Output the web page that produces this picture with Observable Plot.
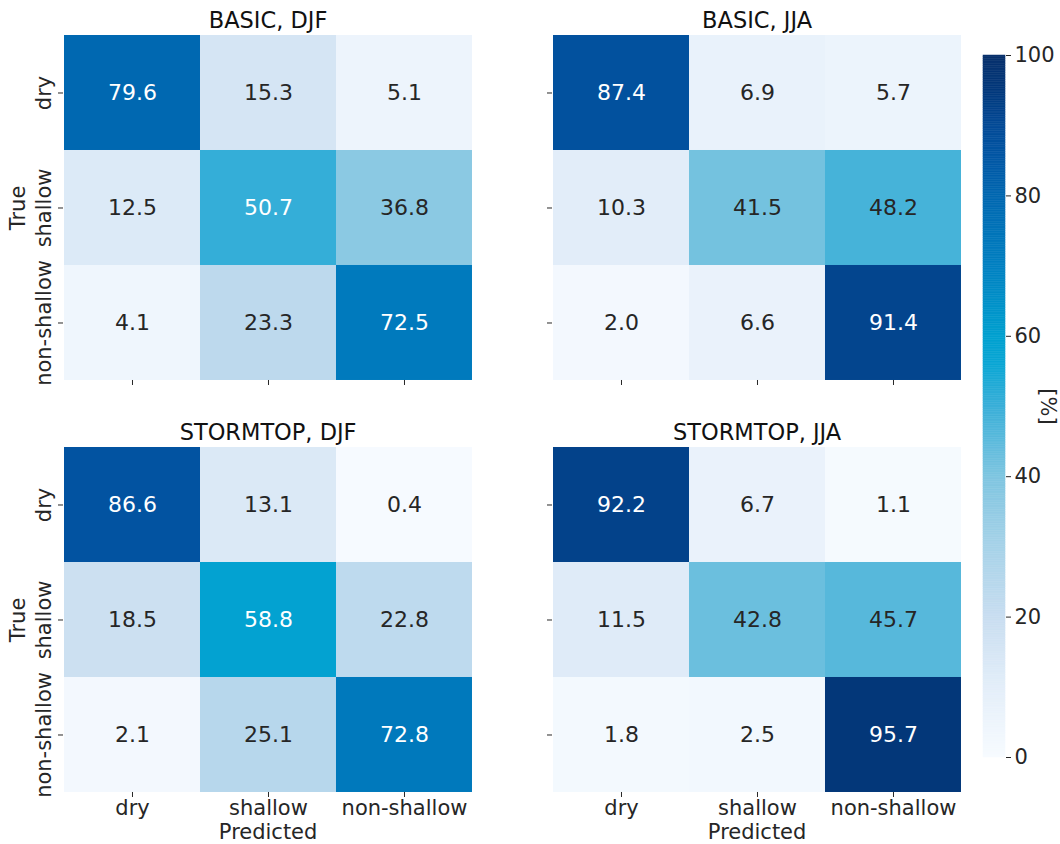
<!DOCTYPE html>
<html>
<head>
<meta charset="utf-8">
<script src="https://cdn.jsdelivr.net/npm/d3@7"></script>
<script src="https://cdn.jsdelivr.net/npm/@observablehq/plot@0.6"></script>
<style>
  html, body { margin: 0; padding: 0; background: #fff; }
  #chart { position: relative; width: 1060px; height: 844px; overflow: hidden; font-family: "DejaVu Sans", sans-serif; }
  #chart svg { position: absolute; overflow: visible; }
</style>
</head>
<body>
<div id="chart"></div>
<script>
// ---- data ----
const classes = ["dry", "shallow", "non-shallow"];
const titles = ["BASIC, DJF", "BASIC, JJA", "STORMTOP, DJF", "STORMTOP, JJA"];
const basicDJF = [[79.6, 15.3, 5.1], [12.5, 50.7, 36.8], [4.1, 23.3, 72.5]];
const basicJJA = [[87.4, 6.9, 5.7], [10.3, 41.5, 48.2], [2.0, 6.6, 91.4]];
const stormDJF = [[86.6, 13.1, 0.4], [18.5, 58.8, 22.8], [2.1, 25.1, 72.8]];
const stormJJA = [[92.2, 6.7, 1.1], [11.5, 42.8, 45.7], [1.8, 2.5, 95.7]];
const cbarTicks = [0, 20, 40, 60, 80, 100];
const xLabel = "Predicted";
const yLabel = "True";
const cbarLabel = "[%]";

// colour map stops
const cmapDomain = [0, 10, 20, 30, 40, 50, 56, 60, 70, 80, 86, 90, 95, 100];
const cmapRange = ["#f7fbff", "#e3eef9", "#c8ddf0", "#a6d2e8", "#7ec5e0", "#3aafd8", "#0aa6d4", "#00a0cf", "#0080c1", "#0067b0", "#0255a3", "#034a96", "#02387b", "#08306b"];

const colorScale = {type: "linear", domain: cmapDomain, range: cmapRange, interpolate: "rgb", clamp: true};
const FONT = "DejaVu Sans";
const TEXT = "#262626";
const FS = 21;

const chart = document.getElementById("chart");

const cellW = 136.4, cellH = 115;
const frameW = cellW * 3, frameH = cellH * 3;
const ML = 63, MT = 35, MR = 25, MB = 70;

function panel(values, title, fx, fy, showY, showX) {
  const data = [];
  values.forEach((row, i) => row.forEach((v, j) => data.push({t: classes[i], p: classes[j], v})));
  const marks = [
    Plot.cell(data, {x: "p", y: "t", fill: "v", inset: 0}),
    Plot.text(data.filter(d => d.v > 50), {x: "p", y: "t", text: d => d.v.toFixed(1), fill: "white", fontSize: 22}),
    Plot.text(data.filter(d => d.v <= 50), {x: "p", y: "t", text: d => d.v.toFixed(1), fill: TEXT, fontSize: 22}),
    Plot.axisX({anchor: "bottom", tickSize: 5, tickPadding: 3, fontSize: FS, label: null, stroke: TEXT, fill: TEXT,
      tickFormat: showX ? (d => d) : (() => "")}),
    Plot.axisY({anchor: "left", tickSize: 5, label: null, stroke: TEXT, tickFormat: () => ""}),
    Plot.text([title], {frameAnchor: "top", dy: -15, text: d => d, fontSize: 22.5, fill: "#111", lineAnchor: "middle"})
  ];
  if (showY) {
    marks.push(Plot.text(classes, {y: d => d, frameAnchor: "left", dx: -19, rotate: -90, text: d => d, fontSize: FS, fill: TEXT, textAnchor: "middle", lineAnchor: "middle"}));
    marks.push(Plot.text([yLabel], {frameAnchor: "left", dx: -45, rotate: -90, text: d => d, fontSize: FS, fill: TEXT, textAnchor: "middle", lineAnchor: "middle"}));
  }
  if (showX) {
    marks.push(Plot.text([xLabel], {frameAnchor: "bottom", dy: 40, text: d => d, fontSize: FS, fill: TEXT, lineAnchor: "middle"}));
  }
  const svg = Plot.plot({
    width: ML + frameW + MR,
    height: MT + frameH + MB,
    marginLeft: ML, marginTop: MT, marginRight: MR, marginBottom: MB,
    style: {fontFamily: FONT, fontSize: FS + "px", color: TEXT, background: "transparent", overflow: "visible"},
    x: {domain: classes, padding: 0, axis: null},
    y: {domain: classes, padding: 0, axis: null},
    color: colorScale,
    marks
  });
  svg.style.left = (fx - ML) + "px";
  svg.style.top = (fy - MT) + "px";
  chart.appendChild(svg);
}

panel(basicDJF, titles[0], 63, 35, true, false);
panel(basicJJA, titles[1], 552, 35, false, false);
panel(stormDJF, titles[2], 63, 447, true, true);
panel(stormJJA, titles[3], 552, 447, false, true);

// ---- colour bar ----
const step = 0.25;
const grad = d3.range(0, 100, step);
const cbTop = 55, cbBottom = 757, cbLeft = 983, cbW = 22;
const cbSvg = Plot.plot({
  width: 100, height: 844,
  marginLeft: cbLeft - 960, marginRight: 100 - (cbLeft - 960) - cbW,
  marginTop: cbTop, marginBottom: 844 - cbBottom,
  style: {fontFamily: FONT, fontSize: FS + "px", color: TEXT, background: "transparent", overflow: "visible"},
  x: {domain: [0, 1], axis: null},
  y: {domain: [0, 100], axis: null},
  color: colorScale,
  marks: [
    Plot.rect(grad, {x1: 0, x2: 1, y1: d => d, y2: d => d + step, fill: d => d + step / 2, stroke: d => d + step / 2, strokeWidth: 0.5}),
    Plot.axisY({anchor: "right", ticks: cbarTicks, tickSize: 5, tickPadding: 4, fontSize: FS, label: null, stroke: TEXT, fill: TEXT}),
    Plot.text([cbarLabel], {frameAnchor: "right", dx: 42, rotate: 90, text: d => d, fontSize: FS, fill: TEXT, textAnchor: "middle", lineAnchor: "middle"})
  ]
});
cbSvg.style.left = "960px";
cbSvg.style.top = "0px";
chart.appendChild(cbSvg);
</script>
</body>
</html>
